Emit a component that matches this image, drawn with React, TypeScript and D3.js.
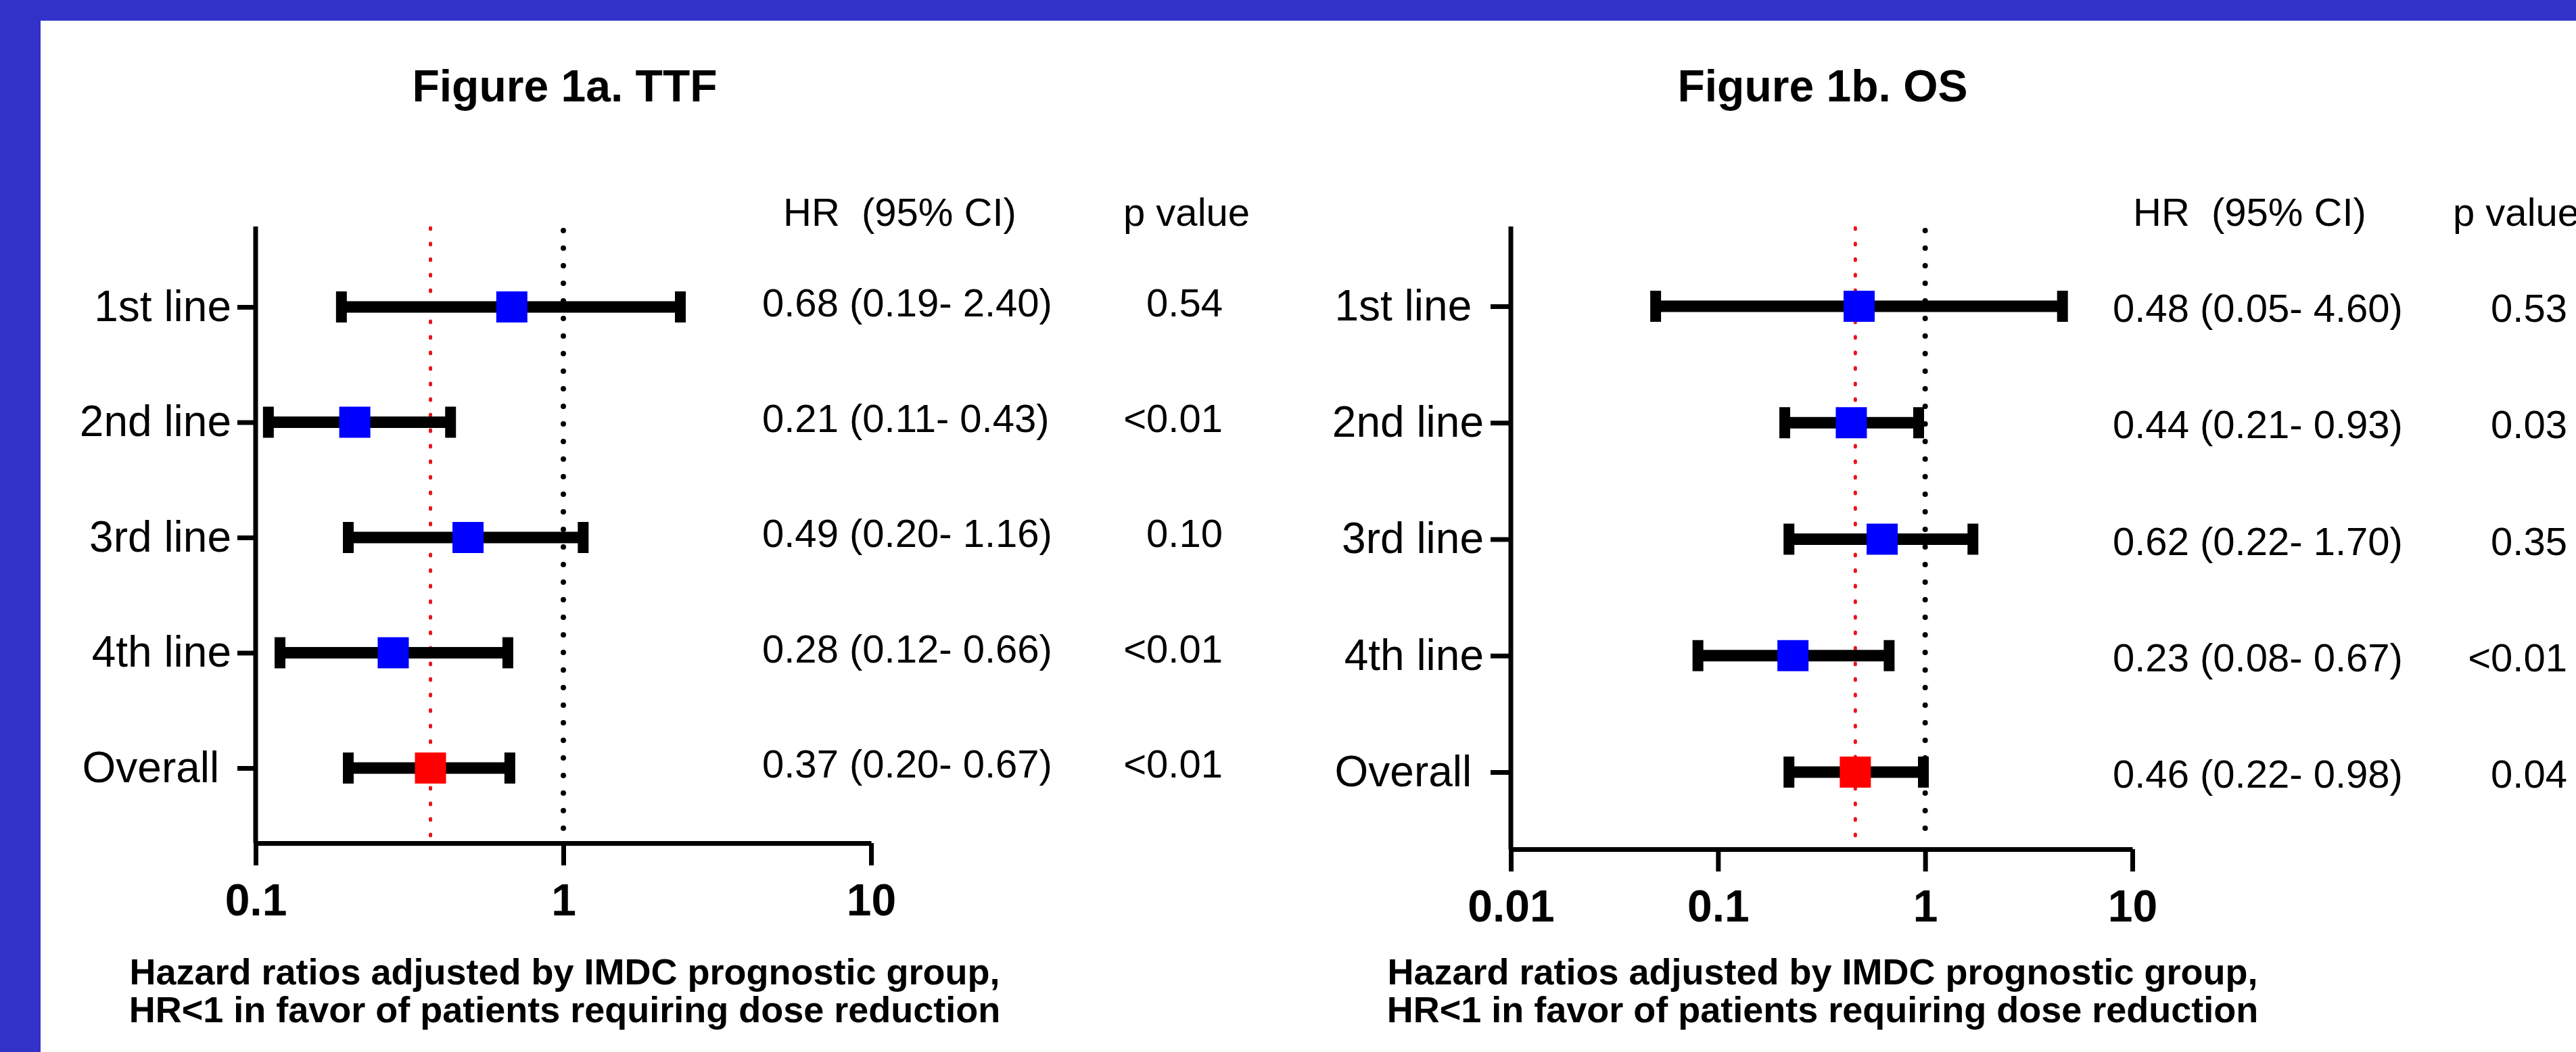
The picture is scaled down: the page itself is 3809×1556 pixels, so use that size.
import { useEffect, useRef } from "react";
import { select, scaleLog, scalePoint, axisBottom, axisLeft } from "d3";

const width = 3809;
const height = 1556;
const FONT = "'Liberation Sans', Arial, Helvetica, sans-serif";

// Figure 1a - time to treatment failure
const linesTTF = ["1st line", "2nd line", "3rd line", "4th line", "Overall "];
const hrTTF = [0.68, 0.21, 0.49, 0.28, 0.37];
const lowTTF = [0.19, 0.11, 0.2, 0.12, 0.2];
const highTTF = [2.4, 0.43, 1.16, 0.66, 0.67];
const pTTF = ["0.54", "<0.01", "0.10", "<0.01", "<0.01"];
const ticksTTF = [0.1, 1, 10];

// Figure 1b - overall survival
const linesOS = ["1st line ", "2nd line", "3rd line", "4th line", "Overall "];
const hrOS = [0.48, 0.44, 0.62, 0.23, 0.46];
const lowOS = [0.05, 0.21, 0.22, 0.08, 0.22];
const highOS = [4.6, 0.93, 1.7, 0.67, 0.98];
const pOS = ["0.53", "0.03", "0.35", "<0.01", "0.04"];
const ticksOS = [0.01, 0.1, 1, 10];

const caption = [
  "Hazard ratios adjusted by IMDC prognostic group,",
  "HR<1 in favor of patients requiring dose reduction",
];

const panels = [
  {
    title: "Figure 1a. TTF",
    labels: linesTTF,
    hr: hrTTF,
    low: lowTTF,
    high: highTTF,
    p: pTTF,
    ticks: ticksTTF,
    x0: 378,
    x1: 1288,
    yTop: 335,
    yAxis: 1247,
    row0: 454,
    row1: 1136,
    centerX: 835,
    textX: 1127,
    headHrX: 1158,
    headPX: 1661,
    pX: 1808,
    textDy: 14,
    labelPad: 9,
    tickLen: 27,
  },
  {
    title: "Figure 1b. OS",
    labels: linesOS,
    hr: hrOS,
    low: lowOS,
    high: highOS,
    p: pOS,
    ticks: ticksOS,
    x0: 2234,
    x1: 3153,
    yTop: 335,
    yAxis: 1256,
    row0: 453,
    row1: 1142,
    centerX: 2695,
    textX: 3124,
    headHrX: 3154,
    headPX: 3627,
    pX: 3796,
    textDy: 23,
    labelPad: 10,
    tickLen: 30,
  },
];

function drawPanel(svg, c) {
  const x = scaleLog()
    .domain([c.ticks[0], c.ticks[c.ticks.length - 1]])
    .range([c.x0, c.x1]);
  const y = scalePoint().domain(c.labels).range([c.row0, c.row1]);
  const last = c.labels.length - 1;

  const g = svg.append("g").attr("font-family", FONT).attr("fill", "#000");

  // title
  g.append("text")
    .attr("x", c.centerX)
    .attr("y", 150)
    .attr("text-anchor", "middle")
    .attr("font-size", 66)
    .attr("font-weight", "bold")
    .text(c.title);

  // column headers
  g.append("text")
    .attr("x", c.headHrX)
    .attr("y", 334)
    .attr("font-size", 58)
    .style("white-space", "pre")
    .text("HR  (95% CI)");
  g.append("text")
    .attr("x", c.headPX)
    .attr("y", 334)
    .attr("font-size", 58)
    .text("p value");

  // reference lines: HR = 1 and overall HR
  g.append("line")
    .attr("x1", x(1))
    .attr("x2", x(1))
    .attr("y1", c.yTop + 6)
    .attr("y2", c.yAxis - 14)
    .attr("stroke", "#000")
    .attr("stroke-width", 8)
    .attr("stroke-linecap", "round")
    .attr("stroke-dasharray", "0 26");
  g.append("line")
    .attr("x1", x(c.hr[last]))
    .attr("x2", x(c.hr[last]))
    .attr("y1", c.yTop + 2)
    .attr("y2", c.yAxis - 10)
    .attr("stroke", "#e8141e")
    .attr("stroke-width", 5)
    .attr("stroke-linecap", "round")
    .attr("stroke-dasharray", "2 21");

  // error bars + markers
  const rows = g
    .selectAll(".row")
    .data(c.labels)
    .enter()
    .append("g")
    .attr("class", "row");

  rows
    .append("line")
    .attr("x1", (d, i) => x(c.low[i]))
    .attr("x2", (d, i) => x(c.high[i]))
    .attr("y1", (d) => y(d))
    .attr("y2", (d) => y(d))
    .attr("stroke", "#000")
    .attr("stroke-width", 17);

  ["low", "high"].forEach((k) => {
    rows
      .append("line")
      .attr("x1", (d, i) => x(c[k][i]))
      .attr("x2", (d, i) => x(c[k][i]))
      .attr("y1", (d) => y(d) - 23)
      .attr("y2", (d) => y(d) + 23)
      .attr("stroke", "#000")
      .attr("stroke-width", 16);
  });

  rows
    .append("rect")
    .attr("x", (d, i) => x(c.hr[i]) - 23)
    .attr("y", (d) => y(d) - 23)
    .attr("width", 46)
    .attr("height", 46)
    .attr("fill", (d, i) => (i === last ? "#ff0000" : "#0000ff"));

  // HR text and p values
  rows
    .append("text")
    .attr("x", c.textX)
    .attr("y", (d) => y(d) + c.textDy)
    .attr("font-size", 58)
    .text(
      (d, i) =>
        `${c.hr[i].toFixed(2)} (${c.low[i].toFixed(2)}- ${c.high[i].toFixed(2)})`
    );
  rows
    .append("text")
    .attr("x", c.pX)
    .attr("y", (d) => y(d) + c.textDy)
    .attr("text-anchor", "end")
    .attr("font-size", 58)
    .text((d, i) => c.p[i]);

  // y axis
  g.append("line")
    .attr("x1", c.x0)
    .attr("x2", c.x0)
    .attr("y1", c.yTop)
    .attr("y2", c.yAxis)
    .attr("stroke", "#000")
    .attr("stroke-width", 7);

  const gy = g
    .append("g")
    .attr("transform", `translate(${c.x0},0)`)
    .call(
      axisLeft(y).tickSize(c.tickLen).tickSizeOuter(0).tickPadding(c.labelPad)
    );
  gy.select(".domain").remove();
  gy.attr("font-family", FONT).attr("font-size", 64);
  gy.selectAll(".tick line").attr("stroke-width", 7);
  gy.selectAll(".tick text").attr("fill", "#000").style("white-space", "pre");

  // x axis
  const gx = g
    .append("g")
    .attr("transform", `translate(0,${c.yAxis})`)
    .call(
      axisBottom(x)
        .tickValues(c.ticks)
        .tickFormat((d) => String(d))
        .tickSize(33)
        .tickSizeOuter(0)
        .tickPadding(27)
    );
  gx.attr("font-family", FONT).attr("font-size", 66).attr("font-weight", "bold");
  gx.select(".domain").attr("stroke-width", 7);
  gx.selectAll(".tick line").attr("stroke-width", 7);
  gx.selectAll(".tick text").attr("fill", "#000");

  // caption
  caption.forEach((line, i) => {
    g.append("text")
      .attr("x", c.centerX)
      .attr("y", 1456 + i * 56)
      .attr("text-anchor", "middle")
      .attr("font-size", 54)
      .attr("font-weight", "bold")
      .text(line);
  });
}

function ForestPlots() {
  const svgRef = useRef(null);

  useEffect(() => {
    document.body.style.margin = "0";
    const svg = select(svgRef.current);
    svg.selectAll("*").remove();

    svg.append("rect").attr("width", width).attr("height", height).attr("fill", "#fff");
    svg.append("rect").attr("width", 60).attr("height", height).attr("fill", "#3232c8");
    svg.append("rect").attr("width", width).attr("height", 30).attr("fill", "#3232c8");
    svg
      .append("rect")
      .attr("x", 60)
      .attr("y", 30)
      .attr("width", width - 60)
      .attr("height", 1)
      .attr("fill", "#7a7ae0");

    panels.forEach((p) => drawPanel(svg, p));
  }, []);

  return (
    <svg
      ref={svgRef}
      width={width}
      height={height}
      style={{ display: "block", position: "absolute", left: 0, top: 0 }}
    />
  );
}

export default function App() {
  return <ForestPlots />;
}
